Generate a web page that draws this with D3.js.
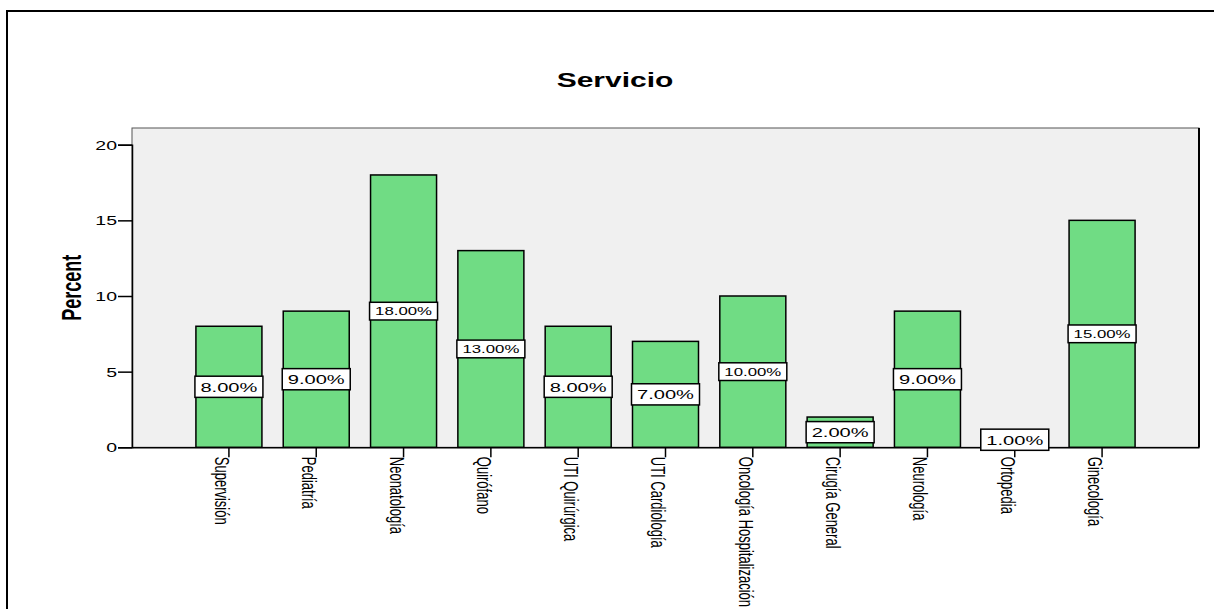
<!DOCTYPE html>
<html>
<head>
<meta charset="utf-8">
<script src="https://cdn.jsdelivr.net/npm/d3@7"></script>
<style>
  html, body { margin: 0; padding: 0; background: #fff; }
  svg { display: block; }
  text { font-family: "Liberation Sans", Arial, sans-serif; fill: #000; }
</style>
</head>
<body>
<svg id="chart" width="1214" height="609"></svg>
<script>
// ---- data ----
const categories = ["Supervisión", "Pediatría", "Neonatología", "Quirófano", "UTI Quirúrgica",
  "UTI Cardiología", "Oncología Hospitalización", "Cirugía General", "Neurología", "Ortopedia", "Ginecología"];
const percents = [8, 9, 18, 13, 8, 7, 10, 2, 9, 1, 15];
const yTicks = [0, 5, 10, 15, 20];
const titleText = "Servicio";
const yTitle = "Percent";

// ---- layout ----
const SX = 1.5; // horizontal stretch of the reference rendering
const plot = { left: 132, right: 1199, top: 128, bottom: 447.3 };
const svg = d3.select("#chart");

// outer frame (extends beyond the right/bottom of the window)
svg.append("rect").attr("x", 7).attr("y", 11).attr("width", 1240).attr("height", 700)
  .attr("fill", "none").attr("stroke", "#000").attr("stroke-width", 2);

// title
svg.append("text").attr("font-weight", "bold").attr("font-size", 20)
  .attr("text-anchor", "middle")
  .attr("transform", `translate(615,87) scale(${SX},1)`)
  .text(titleText);

const x = d3.scaleBand().domain(categories).range([plot.left, plot.right])
  .paddingInner(0.244).paddingOuter(0.732);
const y = d3.scaleLinear().domain([0, 20]).range([plot.bottom, 144.7]);

// plot background
svg.append("rect").attr("x", plot.left).attr("y", plot.top)
  .attr("width", plot.right - plot.left).attr("height", plot.bottom - plot.top)
  .attr("fill", "#f0f0f0").attr("stroke", "#555").attr("stroke-width", 1);
svg.append("line").attr("x1", plot.right).attr("x2", plot.right)
  .attr("y1", plot.top).attr("y2", plot.bottom).attr("stroke", "#000").attr("stroke-width", 2);

// bars
svg.append("g").selectAll("rect").data(categories).join("rect")
  .attr("x", d => x(d)).attr("width", x.bandwidth())
  .attr("y", (d, i) => y(percents[i]))
  .attr("height", (d, i) => y(0) - y(percents[i]))
  .attr("fill", "#70dc84").attr("stroke", "#000").attr("stroke-width", 1.5);

// y axis
const yAxis = svg.append("g").attr("transform", `translate(${plot.left},0)`)
  .call(d3.axisLeft(y).tickValues(yTicks).tickSize(14).tickPadding(1));
yAxis.select(".domain").attr("stroke", "#000").attr("stroke-width", 1.5);
yAxis.selectAll(".tick line").attr("stroke", "#000").attr("stroke-width", 1.5);
yAxis.selectAll(".tick text").attr("font-size", 13).attr("font-family", "Liberation Sans, Arial, sans-serif")
  .attr("x", null).attr("dy", "0.35em")
  .attr("transform", `translate(-15,0) scale(${SX},1)`);

// x axis
const xAxis = svg.append("g").attr("transform", `translate(0,${plot.bottom})`)
  .call(d3.axisBottom(x).tickSize(10).tickSizeOuter(0));
xAxis.select(".domain").attr("stroke", "#000").attr("stroke-width", 1.5);
xAxis.selectAll(".tick line").attr("stroke", "#000").attr("stroke-width", 1.5);
xAxis.selectAll(".tick text")
  .attr("font-size", 13).attr("font-family", "Liberation Sans, Arial, sans-serif")
  .attr("text-anchor", "start").attr("x", 0).attr("y", 0).attr("dy", "0.72em")
  .attr("transform", `translate(0,9.5) scale(${SX},1) rotate(90)`);

// y title
svg.append("text").attr("font-weight", "bold").attr("font-size", 18)
  .attr("text-anchor", "middle")
  .attr("transform", `translate(81,${(plot.top + plot.bottom) / 2}) scale(${SX},1) rotate(-90)`)
  .text(yTitle);

// data labels
const boxW = 68, innerW = 38;
const lab = svg.append("g").selectAll("g").data(categories).join("g")
  .attr("transform", (d, i) => `translate(${x(d) + x.bandwidth() / 2},${y(percents[i] / 2)})`);
lab.each(function (d, i) {
  const g = d3.select(this);
  const rect = g.append("rect");
  const t = g.append("text").attr("font-size", 10).attr("text-anchor", "middle")
    .text(percents[i].toFixed(2) + "%");
  const len = t.node().getComputedTextLength();
  const fs = 10 * innerW / len;
  const h = fs * 1.58;
  t.attr("font-size", fs).attr("dy", "0.36em").attr("transform", `scale(${SX},1)`);
  rect.attr("x", -boxW / 2).attr("y", -h / 2).attr("width", boxW).attr("height", h)
    .attr("fill", "#fff").attr("stroke", "#000").attr("stroke-width", 1.5);
});
</script>
</body>
</html>
